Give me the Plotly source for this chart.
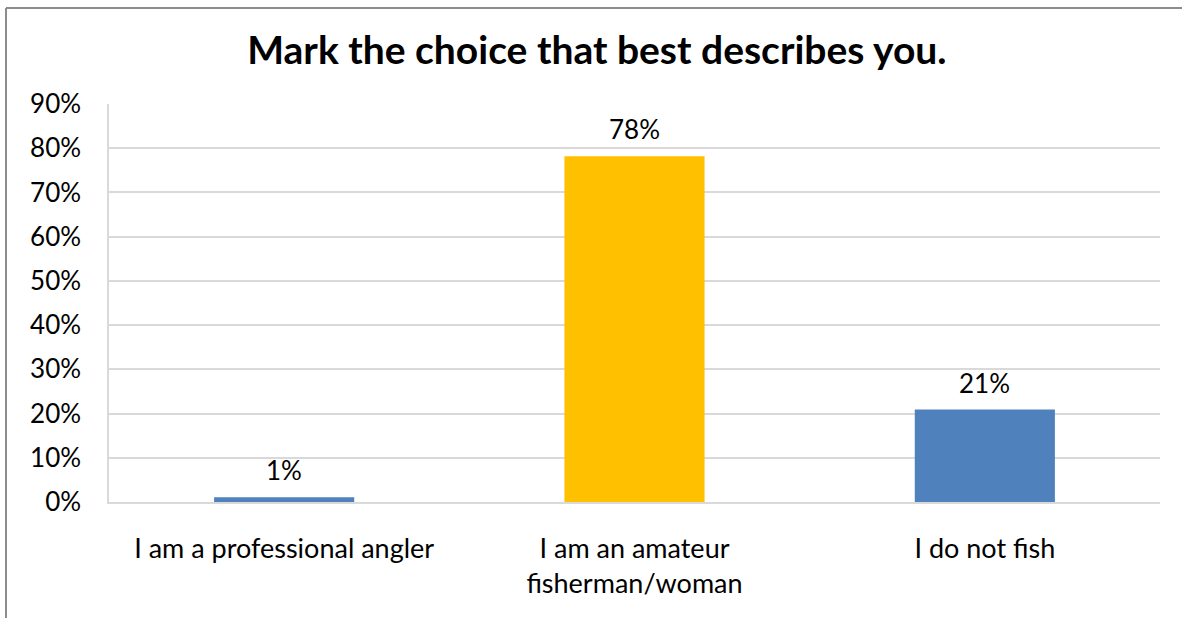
import plotly.graph_objects as go

categories = ["I am a professional angler", "I am an amateur<br>fisherman/woman", "I do not fish"]
values = [0.011, 0.782, 0.209]
bar_colors = ["#4F81BD", "#FFC000", "#4F81BD"]
tick_vals = [0, 0.1, 0.2, 0.3, 0.4, 0.5, 0.6, 0.7, 0.8, 0.9]
tick_text = ["0%", "10%", "20%", "30%", "40%", "50%", "60%", "70%", "80%", "90%"]
title_text = "Mark the choice that best describes you."

FONT = "Lato"
W, H = 1182, 618
ML, MR, MT, MB = 109, 22, 104, 116
PW, PH = W - ML - MR, H - MT - MB

fig = go.Figure(
    go.Bar(
        x=categories,
        y=values,
        marker=dict(color=bar_colors, line=dict(width=0)),
        width=0.4,
        hoverinfo="skip",
    )
)

for c, v in zip(categories, values):
    fig.add_annotation(
        x=c, y=v, text=f"{round(v*100):d}%", showarrow=False,
        yanchor="bottom", yshift=9,
        font=dict(family=FONT, size=26, color="#000000"),
    )

fig.update_layout(
    width=W, height=H,
    margin=dict(l=ML, r=MR, t=MT, b=MB),
    paper_bgcolor="white", plot_bgcolor="white",
    showlegend=False,
    title=dict(
        text=title_text, x=0.505, xanchor="center", y=0.919, yanchor="middle",
        font=dict(family=FONT, size=39, color="#000000", weight="bold"),
    ),
    font=dict(family=FONT, color="#000000"),
    bargap=0.6,
)

fig.update_yaxes(
    range=[0, 0.9], tickvals=tick_vals, ticktext=tick_text,
    showgrid=True, gridcolor="#D9D9D9", gridwidth=1.5,
    showline=True, linecolor="#D9D9D9", linewidth=1.5,
    zeroline=False, ticks="",
    tickfont=dict(family=FONT, size=26, color="#000000"),
    ticklabelstandoff=21,
)
fig.update_xaxes(
    showgrid=False, showline=True, linecolor="#D9D9D9", linewidth=1.5,
    ticks="", tickfont=dict(family=FONT, size=27, color="#000000"),
    ticklabelstandoff=22,
)

# outer chart border (left and top edges visible in the reference)
bx = (6 - ML) / PW
by = (H - 8 - MB) / PH
fig.add_shape(type="line", xref="paper", yref="paper",
              x0=bx, x1=bx, y0=by, y1=-MB / PH,
              line=dict(color="#8C8C8C", width=2))
fig.add_shape(type="line", xref="paper", yref="paper",
              x0=bx, x1=(W - ML) / PW, y0=by, y1=by,
              line=dict(color="#8C8C8C", width=2))

fig.write_html("out.html", config={"displayModeBar": False},
               post_script="document.body.style.margin='0px';")
